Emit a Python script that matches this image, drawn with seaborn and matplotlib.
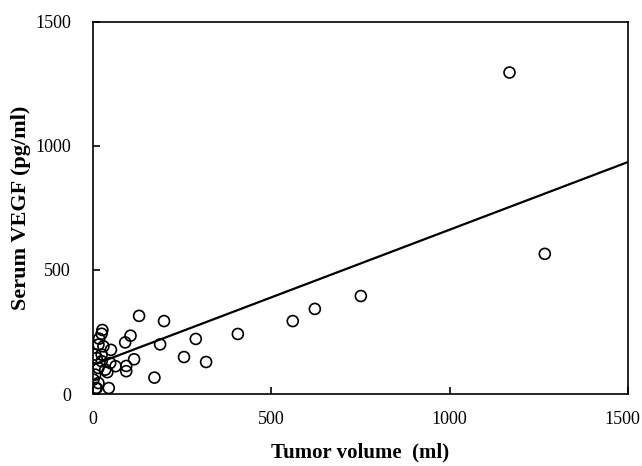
import matplotlib
matplotlib.use("Agg")
import matplotlib.pyplot as plt
import matplotlib.transforms as mtransforms
import numpy as np
import pandas as pd
import seaborn as sns

# tumor volume (ml) and serum VEGF (pg/ml)
tumor_volume = [129, 199, 406, 288, 188, 105, 90, 50, 26, 24, 255, 317, 115,
                93, 93, 172, 63, 40, 44, 8, 6, 10, 15, 6, 1, 15, 10, 24, 24,
                48, 34, 15, 17, 29, 560, 622, 751, 1168, 1267]
serum_vegf = [315, 294, 242, 222, 200, 235, 208, 178, 258, 243, 149, 129, 140,
              113, 92, 66, 112, 88, 24, 24, 159, 145, 105, 78, 58, 44, 24, 159,
              132, 125, 98, 199, 223, 192, 294, 343, 395, 1296, 565]

# regression line end points
fit_x = [0, 1500]
fit_y = [117, 935]

ticks = [0, 500, 1000, 1500]

sns.set_style("ticks")
plt.rcParams["font.family"] = ["Liberation Serif", "DejaVu Serif"]
plt.rcParams["text.color"] = "black"
plt.rcParams["axes.labelcolor"] = "black"

df = pd.DataFrame({"volume": tumor_volume, "vegf": serum_vegf})
fit = pd.DataFrame({"volume": fit_x, "vegf": fit_y})

fig = plt.figure(figsize=(6.42, 4.66), dpi=100)
ax = fig.add_axes([0.145, 0.1545, 0.833, 0.7985])

sns.lineplot(data=fit, x="volume", y="vegf", color="black", lw=1.6, ax=ax)
sns.scatterplot(data=df, x="volume", y="vegf", s=62, facecolor="none",
                edgecolor="black", linewidth=1.2, ax=ax, zorder=3)

ax.set_xlim(0, 1500)
ax.set_ylim(0, 1500)
ax.set_xticks(ticks)
ax.set_yticks(ticks)
for side in ["top", "right", "left", "bottom"]:
    ax.spines[side].set_visible(True)
    ax.spines[side].set_linewidth(1.2)
    ax.spines[side].set_color("black")
ax.tick_params(direction="in", length=5, width=1.2, labelsize=13,
               colors="black")
ax.tick_params(axis="x", pad=12)
ax.tick_params(axis="y", pad=16)

# last x tick label sits a little left of its tick, inside the figure
last = ax.get_xticklabels()[-1]
last.set_transform(last.get_transform() +
                   mtransforms.ScaledTranslation(-6 / 100, 0, fig.dpi_scale_trans))

ax.set_xlabel("Tumor volume  (ml)", fontsize=15, weight="bold", labelpad=11)
ax.set_ylabel("Serum VEGF (pg/ml)", fontsize=16, weight="bold", labelpad=3)

fig.savefig("out.png", dpi=100)
